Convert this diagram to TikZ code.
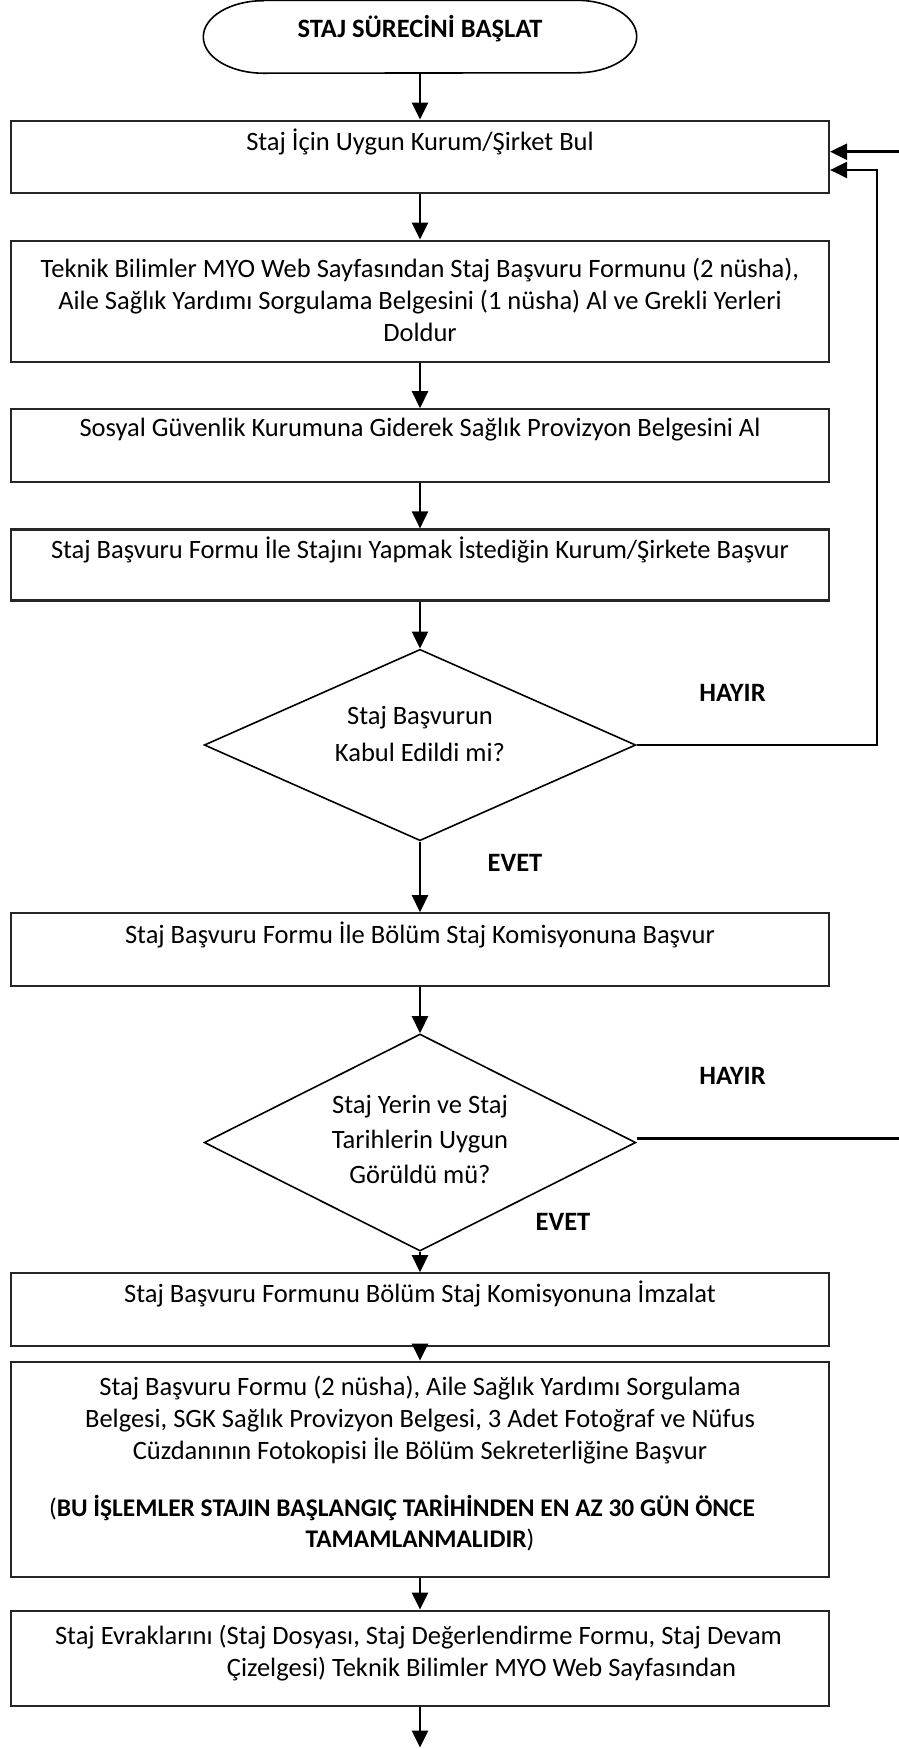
\documentclass[tikz,border=0pt]{standalone}
\usepackage{fontspec}
\setmainfont{Carlito}
\usetikzlibrary{arrows.meta,shapes.geometric}
\begin{document}
\begin{tikzpicture}[x=1pt,y=-1pt,
  every node/.style={font=\fontsize{26.5}{32}\selectfont},
  txt/.style={align=center, inner sep=0},
  qtxt/.style={align=center, inner sep=0, font=\fontsize{26.5}{35}\selectfont},
  lbl/.style={inner sep=0, font=\fontsize{26.5}{32}\selectfont\bfseries},
  stepbox/.style={draw=black!85, line width=2.2pt, minimum width=818, inner sep=0},
  decision/.style={diamond, draw, line width=1.6pt, minimum width=431.6, inner sep=0},
  conn/.style={line width=2.5pt, -{Triangle[length=17pt,width=16pt]}},
  plain/.style={line width=2.5pt}]
\useasboundingbox (0,0) rectangle (899,1749);

% start terminal with elliptic ends
\node[minimum width=433, minimum height=72.5, inner sep=0] (term) at (420,36.75) {};
\draw[line width=1.6pt] ([xshift=60pt]term.north west) -- ([xshift=-60pt]term.north east)
  arc[start angle=90, end angle=-90, x radius=60pt, y radius=36.25pt]
  -- ([xshift=60pt]term.south west)
  arc[start angle=270, end angle=90, x radius=60pt, y radius=36.25pt] -- cycle;
\node[lbl] (tterm) at (420,29) {STAJ SÜRECİNİ BAŞLAT};

% process steps
\node[stepbox, minimum height=72.3] (b1) at (420,156.85) {};
\node[txt] (t1) at (420,141.5) {Staj İçin Uygun Kurum/Şirket Bul};

\node[stepbox, minimum height=121] (b2) at (420,301.2) {};
\node[txt] (t2) at (420,300) {Teknik Bilimler MYO Web Sayfasından Staj Başvuru Formunu (2 nüsha),\\ Aile Sağlık Yardımı Sorgulama Belgesini (1 nüsha) Al ve Grekli Yerleri\\ Doldur};

\node[stepbox, minimum height=72.4] (b3) at (420,445.5) {};
\node[txt] (t3) at (420,429.3) {Sosyal Güvenlik Kurumuna Giderek Sağlık Provizyon Belgesini Al};

\node[stepbox, minimum height=71] (b4) at (420,565) {};
\node[txt] (t4) at (420,550) {Staj Başvuru Formu İle Stajını Yapmak İstediğin Kurum/Şirkete Başvur};

% first decision
\node[decision, minimum height=191.4] (d1) at (420,745) {};
\node[qtxt, font=\fontsize{26.5}{37}\selectfont] (td1) at (420,733.5) {Staj Başvurun\\Kabul Edildi mi?};
\node[lbl] (h1) at (732.5,693) {HAYIR};
\node[lbl] (e1) at (515,863) {EVET};

\node[stepbox, minimum height=72.7] (b5) at (420,949.65) {};
\node[txt] (t5) at (420,935) {Staj Başvuru Formu İle Bölüm Staj Komisyonuna Başvur};

% second decision
\node[decision, minimum height=217] (d2) at (420,1142.5) {};
\node[qtxt] (td2) at (420,1139) {Staj Yerin ve Staj\\Tarihlerin Uygun\\Görüldü mü?};
\node[lbl] (h2) at (732.5,1076) {HAYIR};
\node[lbl] (e2) at (563,1221.7) {EVET};

\node[stepbox, minimum height=72.7] (b6) at (420,1309.65) {};
\node[txt] (t6) at (420,1294.3) {Staj Başvuru Formunu Bölüm Staj Komisyonuna İmzalat};

\node[stepbox, minimum height=215] (b7) at (420,1469.2) {};
\node[txt] (t7) at (420,1420) {Staj Başvuru Formu (2 nüsha), Aile Sağlık Yardımı Sorgulama\\Belgesi, SGK Sağlık Provizyon Belgesi, 3 Adet Fotoğraf ve Nüfus\\Cüzdanının Fotokopisi İle Bölüm Sekreterliğine Başvur};
\node[txt, font=\fontsize{25.4}{32}\selectfont] (t7a) at (402,1508) {(\textbf{BU İŞLEMLER STAJIN BAŞLANGIÇ TARİHİNDEN EN AZ 30 GÜN ÖNCE}};
\node[txt, font=\fontsize{25.4}{32}\selectfont] (t7b) at (420,1540) {\textbf{TAMAMLANMALIDIR})};

\node[stepbox, minimum height=95.3] (b8) at (420,1658.35) {};
\node[txt] (t8) at (418.5,1653) {Staj Evraklarını (Staj Dosyası, Staj Değerlendirme Formu, Staj Devam\\\hspace*{126pt}Çizelgesi) Teknik Bilimler MYO Web Sayfasından};

% loose ends
\coordinate (end) at (420,1747.5);
\coordinate (ra) at (877,170);
\coordinate (rb) at (899,151.7);
\coordinate (rc) at (899,1138.5);

% connectors
\draw[conn] (term.south) -- (b1.north);
\draw[conn] (b1.south) -- (b2.north);
\draw[conn] (b2.south) -- (b3.north);
\draw[conn] (b3.south) -- (b4.north);
\draw[conn] (b4.south) -- (d1.north);
\draw[conn] (d1.south) -- (b5.north);
\draw[conn] (b5.south) -- (d2.north);
\draw[conn] (d2.south) -- (b6.north);
\draw[conn] (b6.south) -- (b7.north);
\draw[conn] (b7.south) -- (b8.north);
\draw[conn] (b8.south) -- (end);
\draw[conn] (d1.east) -| (ra) -- (ra -| b1.east);
\draw[conn] (rb) -- (rb -| b1.east);
\draw[plain] ([yshift=4pt]d2.east) -- (rc);
\end{tikzpicture}
\end{document}
